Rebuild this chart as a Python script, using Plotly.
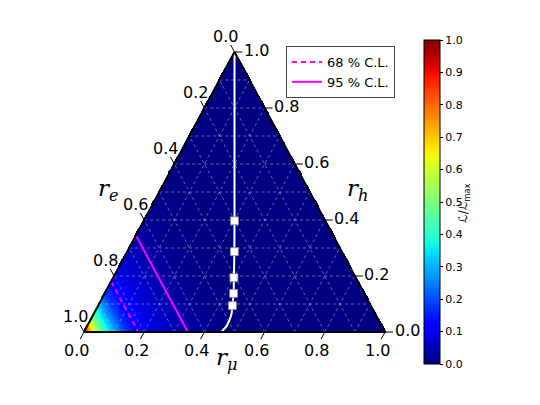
import numpy as np
import plotly.graph_objects as go

# ---------------- data ----------------
# likelihood profile L/Lmax as a function of r_e
re_profile = [0.00, 0.45, 0.55, 0.60, 0.65, 0.70, 0.76, 0.82, 0.86, 0.90, 0.93, 0.95, 0.96, 0.98, 0.99, 1.00]
L_profile = [0.00, 0.00, 0.01, 0.02, 0.035, 0.055, 0.08, 0.12, 0.18, 0.30, 0.42, 0.52, 0.60, 0.75, 0.87, 1.00]

# white flavour-ratio curve (r_e, r_mu, r_h)
curve_re = [0.000, 0.100, 0.200, 0.3015, 0.357, 0.405, 0.434, 0.460, 0.476, 0.495, 0.518, 0.537, 0.542]
curve_rmu = [0.000, 0.100, 0.200, 0.3015, 0.356, 0.401, 0.428, 0.446, 0.457, 0.462, 0.463, 0.458, 0.458]
curve_rh = [1.000, 0.800, 0.600, 0.397, 0.287, 0.194, 0.138, 0.094, 0.067, 0.043, 0.019, 0.005, 0.000]
# square markers on the curve
mark_re = [0.3015, 0.357, 0.405, 0.434, 0.460]
mark_rmu = [0.3015, 0.356, 0.401, 0.428, 0.446]
mark_rh = [0.397, 0.287, 0.194, 0.138, 0.094]

# confidence-level contours (constant r_e)
cl68_re = 0.82
cl95_re = 0.655

tick_values = [0.0, 0.2, 0.4, 0.6, 0.8, 1.0]
tick_labels = ["0.0", "0.2", "0.4", "0.6", "0.8", "1.0"]
grid_levels = [0.1, 0.2, 0.3, 0.4, 0.5, 0.6, 0.7, 0.8, 0.9]
cbar_ticks = [0.0, 0.1, 0.2, 0.3, 0.4, 0.5, 0.6, 0.7, 0.8, 0.9, 1.0]


# ---------------- helpers ----------------
def to_xy(r_e, r_mu, r_h):
    r_mu = np.asarray(r_mu, float)
    r_h = np.asarray(r_h, float)
    return r_mu + r_h / 2.0, r_h


# matplotlib "jet" colormap
_jet = {
    "r": [(0, 0), (0.35, 0), (0.66, 1), (0.89, 1), (1, 0.5)],
    "g": [(0, 0), (0.125, 0), (0.375, 1), (0.64, 1), (0.91, 0), (1, 0)],
    "b": [(0, 0.5), (0.11, 1), (0.34, 1), (0.65, 0), (1, 0)],
}
_stops = sorted({p for ch in _jet.values() for p, _ in ch})
jet_scale = []
for s in _stops:
    rgb = [np.interp(s, [p for p, _ in _jet[c]], [v for _, v in _jet[c]]) for c in "rgb"]
    jet_scale.append([s, "rgb(%d,%d,%d)" % tuple(int(round(255 * v)) for v in rgb)])

W, H = 540, 405
# pixel geometry of the triangle
X0PX, X1PX = 84.0, 385.0
Y0PX, Y1PX = 332.0, 52.0
sx = X1PX - X0PX
sy = Y0PX - Y1PX
xr = [-X0PX / sx, (W - X0PX) / sx]
yr = [-(H - Y0PX) / sy, (Y0PX) / sy]

fig = go.Figure()

# ---------------- heat map ----------------
nx, ny = 320, 300
gx = np.linspace(0, 1, nx)
gy = np.linspace(0, 1, ny)
GX, GY = np.meshgrid(gx, gy)
RMU = GX - GY / 2
RE = 1 - GX - GY / 2
Z = np.interp(np.clip(RE, 0, 1), re_profile, L_profile)
tol = 0.004
mask = (RMU >= -tol) & (RE >= -tol)
Z = np.where(mask, Z, np.nan)
fig.add_trace(go.Heatmap(
    x=gx, y=gy, z=Z, zmin=0, zmax=1, colorscale=jet_scale, zsmooth=False,
    hoverinfo="skip", showscale=True,
    colorbar=dict(
        x=424 / W, xanchor="left", xpad=0, ypad=0,
        y=1 - 202 / H, yanchor="middle", lenmode="pixels", len=324,
        thickness=16, outlinewidth=1, outlinecolor="black",
        tickvals=cbar_ticks, ticktext=["%.1f" % v for v in cbar_ticks],
        ticks="outside", ticklen=3, tickcolor="black",
        tickfont=dict(family="DejaVu Sans", size=11, color="black"),
    ),
))

# ---------------- grid lines ----------------
gxs, gys = [], []
for v in grid_levels:
    for a, b in [
        ((1 - v, 0, v), (0, 1 - v, v)),      # const r_h
        ((1 - v, v, 0), (0, v, 1 - v)),      # const r_mu
        ((v, 1 - v, 0), (v, 0, 1 - v)),      # const r_e
    ]:
        xa, ya = to_xy(*a)
        xb, yb = to_xy(*b)
        gxs += [float(xa), float(xb), None]
        gys += [float(ya), float(yb), None]
fig.add_trace(go.Scatter(x=gxs, y=gys, mode="lines", showlegend=False, hoverinfo="skip",
                         line=dict(color="rgba(200,200,230,0.5)", width=1, dash="dot")))

# ---------------- CL contours ----------------
for re_v, dash, name in [(cl68_re, "5px,4px", "68 % C.L."), (cl95_re, "solid", "95 % C.L.")]:
    ex, ey = to_xy([re_v, re_v], [0, 1 - re_v], [1 - re_v, 0])
    fig.add_trace(go.Scatter(x=ex, y=ey, mode="lines", name=name,
                             line=dict(color="#ff00ff", width=2, dash=dash)))

# ---------------- white curve ----------------
cx, cy = to_xy(curve_re, curve_rmu, curve_rh)
fig.add_trace(go.Scatter(x=cx, y=cy, mode="lines", showlegend=False, hoverinfo="skip",
                         line=dict(color="white", width=2, shape="spline", smoothing=0.5)))
mx, my = to_xy(mark_re, mark_rmu, mark_rh)
fig.add_trace(go.Scatter(x=mx, y=my, mode="markers", showlegend=False, hoverinfo="skip",
                         marker=dict(symbol="square", size=8, color="white",
                                     line=dict(color="#888888", width=0.8))))

# ---------------- triangle edges ----------------
tx, ty = to_xy([1, 0, 0, 1], [0, 1, 0, 0], [0, 0, 1, 0])
fig.add_trace(go.Scatter(x=tx, y=ty, mode="lines", showlegend=False, hoverinfo="skip",
                         line=dict(color="black", width=2)))

# ---------------- ticks ----------------
tlen = 8.0
dpx = np.hypot(0.5 * sx, sy)
t = tlen / dpx
kx, ky = [], []
annotations = []
font_tick = dict(family="DejaVu Sans", size=16, color="black")
for v, lab in zip(tick_values, tick_labels):
    # bottom axis: r_mu (r_h = 0)
    bx, by = to_xy(1 - v, v, 0)
    kx += [float(bx), float(bx - 0.5 * t), None]
    ky += [float(by), float(by - t), None]
    annotations.append(dict(x=float(bx), y=float(by), text=lab, showarrow=False,
                            xshift=-8, yshift=-18, font=font_tick))
    # left axis: r_e (r_mu = 0)
    lx, ly = to_xy(v, 0, 1 - v)
    kx += [float(lx), float(lx - 0.5 * t), None]
    ky += [float(ly), float(ly + t), None]
    annotations.append(dict(x=float(lx), y=float(ly), text=lab, showarrow=False,
                            xshift=-9, yshift=16, font=font_tick))
    # right axis: r_h (r_e = 0)
    rx, ry = to_xy(0, 1 - v, v)
    kx += [float(rx), float(rx + tlen / sx), None]
    ky += [float(ry), float(ry), None]
    annotations.append(dict(x=float(rx), y=float(ry), text=lab, showarrow=False,
                            xshift=22, yshift=2, font=font_tick))
fig.add_trace(go.Scatter(x=kx, y=ky, mode="lines", showlegend=False, hoverinfo="skip",
                         line=dict(color="black", width=1)))

# ---------------- axis titles ----------------
font_title = dict(family="DejaVu Serif", size=23, color="black")
annotations += [
    dict(x=96 / W, y=1 - 190 / H, xref="paper", yref="paper", showarrow=False,
         text="<i>r</i><sub><i>e</i></sub>", font=font_title),
    dict(x=357 / W, y=1 - 190 / H, xref="paper", yref="paper", showarrow=False,
         text="<i>r</i><sub><i>h</i></sub>", font=font_title),
    dict(x=226 / W, y=1 - 376 / H, xref="paper", yref="paper", showarrow=False,
         text="<i>r</i><sub><i>μ</i></sub>", font=font_title),
    dict(x=474 / W, y=1 - 203 / H, xref="paper", yref="paper", showarrow=False,
         text="ℒ/ℒ<sub>max</sub>", textangle=-90,
         font=dict(family="DejaVu Sans", size=12, color="black")),
]

fig.update_layout(
    width=W, height=H,
    margin=dict(l=0, r=0, t=0, b=0),
    paper_bgcolor="white", plot_bgcolor="white",
    xaxis=dict(range=xr, visible=False, fixedrange=True),
    yaxis=dict(range=yr, visible=False, fixedrange=True),
    showlegend=True,
    legend=dict(x=286 / W, y=1 - 46 / H, xanchor="left", yanchor="top",
                bgcolor="white", bordercolor="#444444", borderwidth=1,
                font=dict(family="DejaVu Sans", size=13, color="black"),
                itemwidth=30, tracegroupgap=0),
    annotations=annotations,
)

fig.write_html(
    "out.html",
    config={"displayModeBar": False, "staticPlot": True},
    post_script="document.body.style.margin='0';document.body.style.padding='0';"
                "document.documentElement.style.overflow='hidden';",
)
